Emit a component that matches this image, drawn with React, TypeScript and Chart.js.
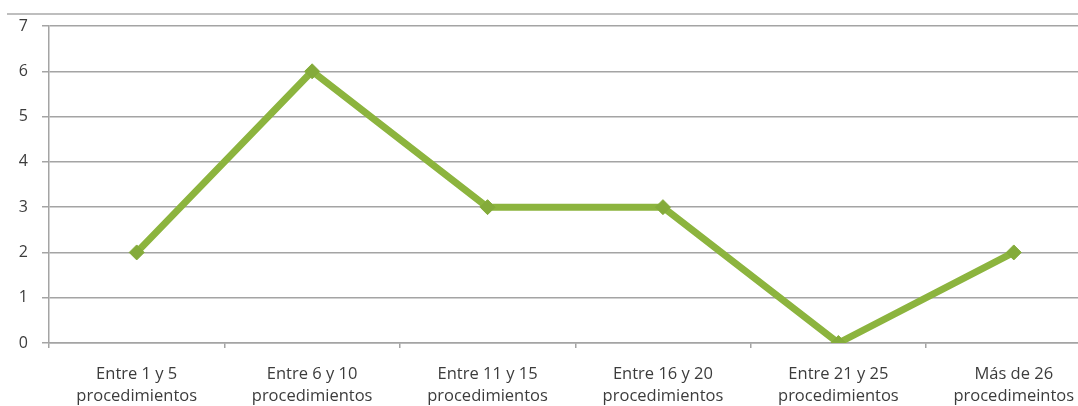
import React, { useEffect, useRef } from "react";
import { Chart, registerables } from "chart.js";

Chart.register(...registerables);

const categories: string[][] = [
  ["Entre 1 y 5", "procedimientos"],
  ["Entre 6 y 10", "procedimientos"],
  ["Entre 11 y 15", "procedimientos"],
  ["Entre 16 y 20", "procedimientos"],
  ["Entre 21 y 25", "procedimientos"],
  ["Más de 26", "procedimeintos"],
];

const values: number[] = [2, 6, 3, 3, 0, 2];

const yMin = 0;
const yMax = 7;
const yStep = 1;

const GREEN = "#8cb43e";
const MARKER = "#84ab3a";
const GRID = "#a4a4a4";
const TEXT = "#3c3c3c";
const FONT = "'Open Sans', sans-serif";

const W = 1110;
const H = 406;

// thin rule across the top of the frame
const topRule = {
  id: "topRule",
  beforeDraw(chart: Chart) {
    const { ctx, width, chartArea } = chart;
    ctx.save();
    ctx.strokeStyle = "#a8a8a8";
    ctx.lineWidth = 1.5;
    ctx.beginPath();
    const y = chartArea.top - 12;
    ctx.moveTo(7, y);
    ctx.lineTo(width, y);
    ctx.stroke();
    ctx.restore();
  },
};

export default function App() {
  const canvasRef = useRef<HTMLCanvasElement | null>(null);

  useEffect(() => {
    const canvas = canvasRef.current;
    if (!canvas) return;
    const chart = new Chart(canvas, {
      type: "line",
      data: {
        labels: categories,
        datasets: [
          {
            data: values,
            borderColor: GREEN,
            borderWidth: 7,
            borderJoinStyle: "round",
            borderCapStyle: "round",
            tension: 0,
            fill: false,
            pointStyle: "rectRot",
            pointRadius: 7.5,
            pointBackgroundColor: MARKER,
            pointBorderColor: MARKER,
            pointBorderWidth: 1,
          },
        ],
      },
      options: {
        animation: false,
        responsive: false,
        devicePixelRatio: 1,
        layout: { padding: { top: 26, left: 0, right: 0, bottom: 0 } },
        plugins: {
          legend: { display: false },
          tooltip: { enabled: false },
          title: { display: false },
        },
        scales: {
          x: {
            type: "category",
            offset: true,
            afterFit(scale: any) {
              scale.height = 63;
            },
            grid: {
              offset: true,
              drawOnChartArea: false,
              drawTicks: true,
              tickLength: 5,
              color: GRID,
              lineWidth: 1.5,
            },
            border: { display: true, color: GRID, width: 1.5 },
            ticks: {
              color: TEXT,
              font: { family: FONT, size: 16.5, lineHeight: "22px" },
              padding: 15,
              maxRotation: 0,
              autoSkip: false,
            },
          },
          y: {
            min: yMin,
            max: yMax,
            afterFit(scale: any) {
              scale.width = 49;
            },
            grid: {
              drawTicks: true,
              tickLength: 7,
              color: GRID,
              lineWidth: 1.5,
            },
            border: { display: true, color: GRID, width: 1.5 },
            ticks: {
              stepSize: yStep,
              color: TEXT,
              font: { family: FONT, size: 16 },
              padding: 14,
            },
          },
        },
      },
      plugins: [topRule],
    });
    return () => chart.destroy();
  }, []);

  return (
    <div
      style={{
        position: "fixed",
        left: 0,
        top: 0,
        width: W,
        height: H,
        background: "#ffffff",
      }}
    >
      <canvas ref={canvasRef} width={W} height={H} />
    </div>
  );
}
